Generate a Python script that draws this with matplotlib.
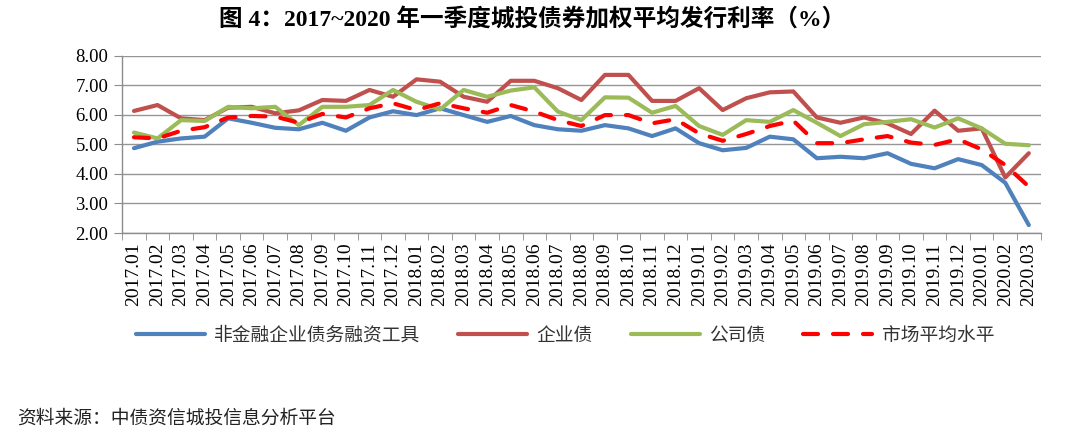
import matplotlib.pyplot as plt
from matplotlib.ticker import FixedLocator

# ── Data ─────────────────────────────────────────────────────────────────────
MONTHS = [
    "2017.01", "2017.02", "2017.03", "2017.04", "2017.05", "2017.06",
    "2017.07", "2017.08", "2017.09", "2017.10", "2017.11", "2017.12",
    "2018.01", "2018.02", "2018.03", "2018.04", "2018.05", "2018.06",
    "2018.07", "2018.08", "2018.09", "2018.10", "2018.11", "2018.12",
    "2019.01", "2019.02", "2019.03", "2019.04", "2019.05", "2019.06",
    "2019.07", "2019.08", "2019.09", "2019.10", "2019.11", "2019.12",
    "2020.01", "2020.02", "2020.03"]

NONFIN = [4.87, 5.09, 5.20, 5.26, 5.88, 5.73, 5.56, 5.51, 5.73, 5.46, 5.91, 6.12,
          5.99, 6.22, 5.99, 5.76, 5.96, 5.65, 5.51, 5.46, 5.65, 5.54, 5.28, 5.54,
          5.04, 4.80, 4.88, 5.26, 5.17, 4.53, 4.58, 4.53, 4.70, 4.34, 4.19, 4.50,
          4.30, 3.70, 2.27]

ENTERPRISE = [6.13, 6.33, 5.88, 5.82, 6.24, 6.27, 6.05, 6.15, 6.50, 6.47, 6.84, 6.61,
              7.20, 7.12, 6.61, 6.44, 7.15, 7.15, 6.90, 6.50, 7.35, 7.35, 6.47, 6.47,
              6.90, 6.16, 6.56, 6.76, 6.79, 5.91, 5.73, 5.91, 5.71, 5.35, 6.14, 5.46,
              5.54, 3.88, 4.70]

CORPORATE = [5.40, 5.20, 5.82, 5.79, 6.27, 6.22, 6.27, 5.65, 6.27, 6.27, 6.33, 6.84,
             6.44, 6.18, 6.84, 6.61, 6.82, 6.93, 6.11, 5.82, 6.59, 6.58, 6.07, 6.30,
             5.62, 5.32, 5.82, 5.76, 6.16, 5.73, 5.28, 5.68, 5.76, 5.85, 5.57, 5.88,
             5.54, 5.02, 4.97]

MARKET = [5.24, 5.20, 5.46, 5.58, 5.91, 5.96, 5.94, 5.73, 6.03, 5.91, 6.22, 6.39,
          6.16, 6.39, 6.22, 6.07, 6.33, 6.11, 5.82, 5.62, 5.99, 5.99, 5.71, 5.85,
          5.37, 5.12, 5.35, 5.62, 5.80, 5.04, 5.04, 5.17, 5.28, 5.06, 4.98, 5.17,
          4.83, 4.30, 3.57]

Y_TICKS = [2, 3, 4, 5, 6, 7, 8]

SERIF = ["Liberation Serif", "Noto Sans CJK SC"]
CJK = ["Noto Sans CJK SC", "DejaVu Sans"]

# ── Figure ───────────────────────────────────────────────────────────────────
fig = plt.figure(figsize=(10.7, 4.34), dpi=100)
ax = fig.add_axes([0.1142, 0.4631, 0.8583, 0.4086])

x = list(range(len(MONTHS)))
lw = 3.0
ax.plot(x, NONFIN, color="#4F81BD", lw=lw, solid_capstyle="round", label="非金融企业债务融资工具")
ax.plot(x, ENTERPRISE, color="#C0504D", lw=lw, solid_capstyle="round", label="企业债")
ax.plot(x, CORPORATE, color="#9BBB59", lw=lw, solid_capstyle="round", label="公司债")
ax.plot(x, MARKET, color="#FF0000", lw=lw, dashes=(3.6, 3.6), dash_capstyle="round",
        label="市场平均水平")

ax.set_xlim(-0.5, len(MONTHS) - 0.5)
ax.set_ylim(2, 8)

# axes styling, Excel-like
for s in ("top", "right"):
    ax.spines[s].set_visible(False)
for s in ("left", "bottom"):
    ax.spines[s].set_color("#8c8c8c")
    ax.spines[s].set_linewidth(1.0)

ax.set_yticks(Y_TICKS)
ax.set_yticklabels([f"{v:.2f}" for v in Y_TICKS], family=SERIF, fontsize=13.5)
ax.tick_params(axis="y", length=6, color="#8c8c8c", pad=4)
ax.yaxis.grid(True, color="#969696", lw=1.0)
ax.set_axisbelow(True)

ax.set_xticks(x)
ax.set_xticklabels(MONTHS, rotation=90, family=SERIF, fontsize=14)
ax.tick_params(axis="x", which="major", length=0, pad=7)
ax.xaxis.set_minor_locator(FixedLocator([i - 0.5 for i in range(len(MONTHS) + 1)]))
ax.tick_params(axis="x", which="minor", length=5, color="#8c8c8c")

# legend
leg = fig.legend(loc="center", bbox_to_anchor=(0.528, 0.228), ncol=4, frameon=False,
                 prop={"family": CJK, "size": 13.5}, handlelength=3.7,
                 handletextpad=0.5, columnspacing=2.0)
for t in leg.get_texts():
    t.set_color("#333333")

# title and source
fig.text(0.497, 0.955, "图 4：2017~2020 年一季度城投债券加权平均发行利率（%）",
         ha="center", va="center", fontsize=17, fontweight="bold",
         family=["Liberation Serif", "Noto Sans CJK SC"])
fig.text(0.016, 0.037, "资料来源：中债资信城投信息分析平台", ha="left", va="center",
         fontsize=13.5, fontweight="medium", family=CJK, color="#222222")

plt.savefig("out.png", dpi=100)
